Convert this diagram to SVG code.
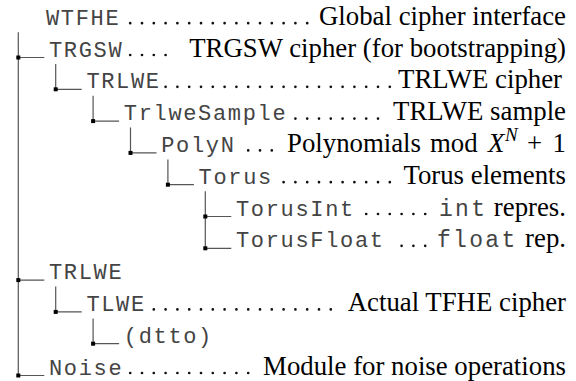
<svg xmlns="http://www.w3.org/2000/svg" width="576" height="381" viewBox="0 0 576 381">
  <style>
    .mono { font-family: "Liberation Mono", "DejaVu Sans Mono", monospace; font-size: 22px; letter-spacing: 1.66px; fill: #444; }
    .code { font-family: "Liberation Mono", "DejaVu Sans Mono", monospace; font-size: 23px; letter-spacing: 2.3px; fill: #444; }
    .serif { font-family: "Liberation Serif", "Times New Roman", serif; font-size: 26.8px; fill: #000; }
    .it { font-style: italic; }
    .tree { stroke: #555; stroke-width: 1.2; fill: none; }
    .knot { fill: #000; }
    .dots { stroke: #111; stroke-width: 2.7; stroke-linecap: round; stroke-dasharray: 0 11.8; fill: none; }
  </style>

  <!-- tree connectors: trunk lines, branch stubs and junction knots -->
  <g id="connectors">
    <!-- level 0 trunk (x=18.3) -->
    <path class="tree" d="M18.3 32.2 V375.5"/>
    <path class="tree" d="M18.3 57.5 H44.3 M18.3 280.1 H44.3 M18.3 375.5 H44.3"/>
    <!-- level 1 trunks (x=55.7) -->
    <path class="tree" d="M55.7 64 V89.3 H81.7 M55.7 286.6 V311.9 H81.7"/>
    <!-- level 2 trunks (x=93.1) -->
    <path class="tree" d="M93.1 95.8 V121.1 H119.1 M93.1 318.4 V343.7 H119.1"/>
    <!-- level 3 trunk (x=130.5) -->
    <path class="tree" d="M130.5 127.6 V152.9 H156.5"/>
    <!-- level 4 trunk (x=167.9) -->
    <path class="tree" d="M167.9 159.4 V184.7 H193.9"/>
    <!-- level 5 trunk (x=205.3) -->
    <path class="tree" d="M205.3 191.2 V248.3 M205.3 216.5 H231.3 M205.3 248.3 H231.3"/>
    <!-- junction knots -->
    <g class="knot">
      <rect x="16.3" y="55.5" width="4" height="4"/>
      <rect x="53.7" y="87.3" width="4" height="4"/>
      <rect x="91.1" y="119.1" width="4" height="4"/>
      <rect x="128.5" y="150.9" width="4" height="4"/>
      <rect x="165.9" y="182.7" width="4" height="4"/>
      <rect x="203.3" y="214.5" width="4" height="4"/>
      <rect x="203.3" y="246.3" width="4" height="4"/>
      <rect x="16.3" y="278.1" width="4" height="4"/>
      <rect x="53.7" y="309.9" width="4" height="4"/>
      <rect x="91.1" y="341.7" width="4" height="4"/>
      <rect x="16.3" y="373.5" width="4" height="4"/>
    </g>
  </g>

  <!-- leader dots sit on a shared 11.8px grid starting at x=130.2 -->
  <g id="node-wtfhe">
    <text class="mono" x="46" y="24.7">WTFHE</text>
    <path class="dots" d="M130.2 23.2 H307.6"/>
    <text class="serif" x="566" y="24.7" text-anchor="end">Global cipher interface</text>
  </g>

  <g id="node-trgsw">
    <text class="mono" x="49" y="56.5">TRGSW</text>
    <path class="dots" d="M130.2 55 H166"/>
    <text class="serif" x="566" y="56.5" text-anchor="end">TRGSW cipher (for bootstrapping)</text>
  </g>

  <g id="node-trlwe">
    <text class="mono" x="86.4" y="88.3">TRLWE</text>
    <path class="dots" d="M165.6 86.8 H390.2"/>
    <text class="serif" x="562" y="88.3" text-anchor="end">TRLWE cipher</text>
  </g>

  <g id="node-trlwesample">
    <text class="mono" x="123.8" y="120.1">TrlweSample</text>
    <path class="dots" d="M295.4 118.6 H378.4"/>
    <text class="serif" x="566" y="120.1" text-anchor="end">TRLWE sample</text>
  </g>

  <g id="node-polyn">
    <text class="mono" x="161.2" y="151.9">PolyN</text>
    <path class="dots" d="M248.2 150.4 H272.2"/>
    <text class="serif" y="151.9"><tspan x="287">Polynomials</tspan><tspan x="430">mod</tspan><tspan class="it" x="488">X</tspan><tspan class="it" x="505" y="141" font-size="19px">N</tspan><tspan x="527" y="151.9">+</tspan><tspan x="552.6">1</tspan></text>
  </g>

  <g id="node-torus">
    <text class="mono" x="198.6" y="183.7">Torus</text>
    <path class="dots" d="M283.6 182.2 H390.2"/>
    <text class="serif" x="566" y="183.7" text-anchor="end">Torus elements</text>
  </g>

  <g id="node-torusint">
    <text class="mono" x="236" y="215.5">TorusInt</text>
    <path class="dots" d="M366.2 214 H425.6"/>
    <text class="serif" y="215.5"><tspan class="code" x="439">int</tspan><tspan x="566" text-anchor="end">repres.</tspan></text>
  </g>

  <g id="node-torusfloat">
    <text class="mono" x="236" y="247.3">TorusFloat</text>
    <path class="dots" d="M401.6 245.8 H425.6"/>
    <text class="serif" y="247.3"><tspan class="code" x="437">float</tspan><tspan x="566" text-anchor="end">rep.</tspan></text>
  </g>

  <g id="node-trlwe-2">
    <text class="mono" x="49" y="279.1">TRLWE</text>
  </g>

  <g id="node-tlwe">
    <text class="mono" x="86.4" y="310.9">TLWE</text>
    <path class="dots" d="M153.8 309.4 H331.2"/>
    <text class="serif" x="566" y="310.9" text-anchor="end">Actual TFHE cipher</text>
  </g>

  <g id="node-dtto">
    <text class="mono" x="123.8" y="342.7">(dtto)</text>
  </g>

  <g id="node-noise">
    <text class="mono" x="49" y="374.5">Noise</text>
    <path class="dots" d="M130.2 373 H248.6"/>
    <text class="serif" x="566" y="374.5" text-anchor="end">Module for noise operations</text>
  </g>
</svg>
